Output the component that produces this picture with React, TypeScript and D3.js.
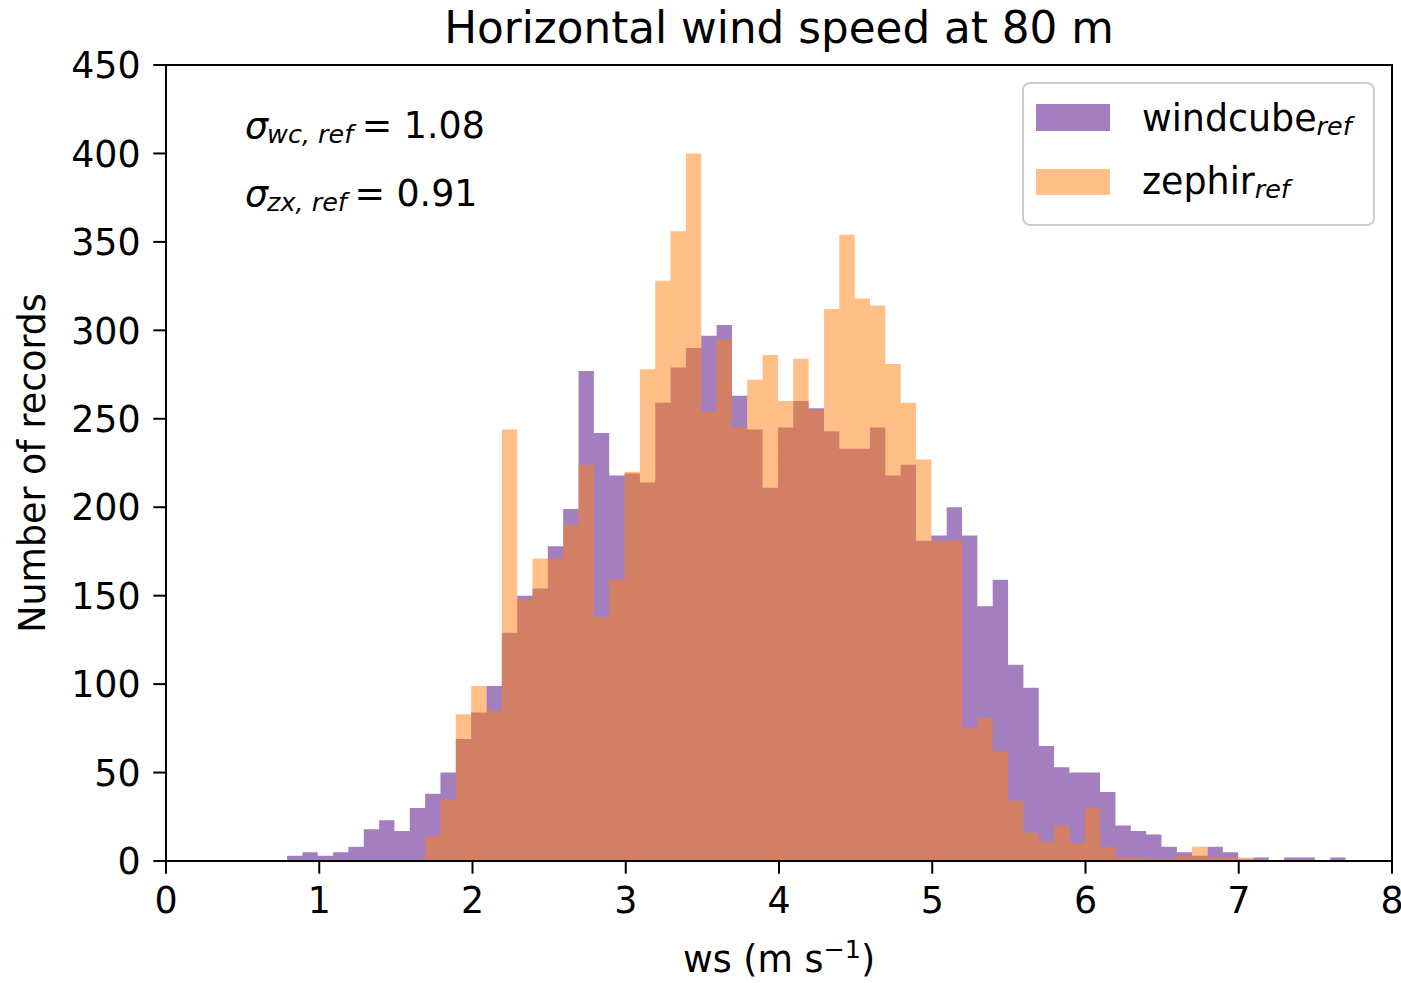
import React from "react";
import * as d3 from "d3";

// Histogram bins (shared by both series)
const binStart = 0.79;
const binWidth = 0.1001;

// counts per bin, windcube_ref
const windcube: number[] = [
  3, 5, 3, 5, 8, 18, 23, 17, 30, 38,
  50, 69, 84, 99, 129, 150, 154, 178, 199, 277,
  242, 218, 219, 214, 259, 279, 290, 297, 303, 263,
  244, 211, 245, 260, 256, 243, 233, 233, 245, 218,
  224, 181, 184, 200, 184, 144, 159, 111, 98, 65,
  53, 50, 50, 39, 20, 17, 15, 8, 5, 3,
  8, 5, 1, 2, 0, 2, 2, 0, 2,
];

// counts per bin, zephir_ref
const zephir: number[] = [
  0, 0, 0, 0, 0, 0, 0, 0, 0, 14,
  35, 83, 99, 85, 244, 148, 171, 171, 190, 224,
  138, 159, 220, 278, 328, 356, 400, 254, 295, 245,
  272, 286, 260, 284, 255, 312, 354, 318, 314, 281,
  259, 227, 181, 181, 75, 81, 62, 34, 16, 11,
  20, 10, 30, 8, 2, 2, 1, 1, 3, 8,
  2, 2, 2, 0, 0, 0, 0, 0, 0,
];

const xTicks = [0, 1, 2, 3, 4, 5, 6, 7, 8];
const yTicks = [0, 50, 100, 150, 200, 250, 300, 350, 400, 450];

const W = 1401;
const H = 983;
const FONT = "DejaVu Sans";
const FS = 36.4;
const SUB = FS * 0.7;

const purple = "#a47fbf";
const orange = "#ff7f0e";

export default function App() {
  const x = d3.scaleLinear().domain([0, 8]).range([166, 1392]);
  const y = d3.scaleLinear().domain([0, 450]).range([861, 65]);

  const toSteps = (arr: number[]) => {
    const pts = arr.map((v, i) => ({ x: binStart + i * binWidth, v }));
    pts.push({ x: binStart + arr.length * binWidth, v: 0 });
    return pts;
  };
  const area = d3
    .area<{ x: number; v: number }>()
    .x((d) => x(d.x))
    .y0(y(0))
    .y1((d) => y(d.v))
    .curve(d3.curveStepAfter);

  const tickLen = 12.7;
  const pad = 12.7;

  return (
    <svg
      width={W}
      height={H}
      style={{ position: "absolute", left: 0, top: 0, background: "#fff" }}
      fontFamily={FONT}
    >
      <rect x={0} y={0} width={W} height={H} fill="#fff" />
      <path d={area(toSteps(windcube)) || ""} fill={purple} />
      <path d={area(toSteps(zephir)) || ""} fill={orange} fillOpacity={0.5} />

      {/* spines */}
      <rect x={166} y={65} width={1392 - 166} height={861 - 65} fill="none" stroke="#000" strokeWidth={2} />

      {/* x ticks */}
      {xTicks.map((t) => (
        <g key={"x" + t}>
          <line x1={x(t)} x2={x(t)} y1={861} y2={861 + tickLen} stroke="#000" strokeWidth={2} />
          <text x={x(t)} y={861 + tickLen + pad + FS * 0.729} fontSize={FS} textAnchor="middle" fill="#000">
            {t}
          </text>
        </g>
      ))}
      {/* y ticks */}
      {yTicks.map((t) => (
        <g key={"y" + t}>
          <line x1={166 - tickLen} x2={166} y1={y(t)} y2={y(t)} stroke="#000" strokeWidth={2} />
          <text x={166 - tickLen - pad} y={y(t) + FS * 0.729 / 2} fontSize={FS} textAnchor="end" fill="#000">
            {t}
          </text>
        </g>
      ))}

      {/* title */}
      <text x={779} y={43} fontSize={FS * 1.2} textAnchor="middle" fill="#000">
        Horizontal wind speed at 80 m
      </text>

      {/* axis labels */}
      <text x={779} y={972} fontSize={FS} textAnchor="middle" fill="#000">
        ws (m s<tspan fontSize={SUB} dy={-14}>−1</tspan>
        <tspan dy={14}>)</tspan>
      </text>
      <text transform="translate(45,463) rotate(-90)" fontSize={FS} textAnchor="middle" fill="#000">
        Number of records
      </text>

      {/* sigma annotations */}
      <text x={245} y={137.5} fontSize={FS} fill="#000">
        <tspan fontStyle="italic">σ</tspan>
        <tspan fontStyle="italic" fontSize={SUB} dy={5} dx={-1}>wc, ref</tspan>
        <tspan dy={-5} dx={-3}> = 1.08</tspan>
      </text>
      <text x={245} y={205.5} fontSize={FS} fill="#000">
        <tspan fontStyle="italic">σ</tspan>
        <tspan fontStyle="italic" fontSize={SUB} dy={5} dx={-1}>zx, ref</tspan>
        <tspan dy={-5} dx={-4}> = 0.91</tspan>
      </text>

      {/* legend */}
      <rect x={1023} y={83} width={351} height={142} rx={7} fill="#fff" fillOpacity={0.8} stroke="#cccccc" strokeWidth={2} />
      <rect x={1036} y={104} width={74} height={27} fill={purple} />
      <rect x={1036} y={169} width={74} height={26} fill={orange} fillOpacity={0.5} />
      <text x={1142} y={130.5} fontSize={FS} fill="#000">
        windcube
        <tspan fontStyle="italic" fontSize={SUB} dy={4}>ref</tspan>
      </text>
      <text x={1142} y={194} fontSize={FS} fill="#000">
        zephir
        <tspan fontStyle="italic" fontSize={SUB} dy={4}>ref</tspan>
      </text>
    </svg>
  );
}
